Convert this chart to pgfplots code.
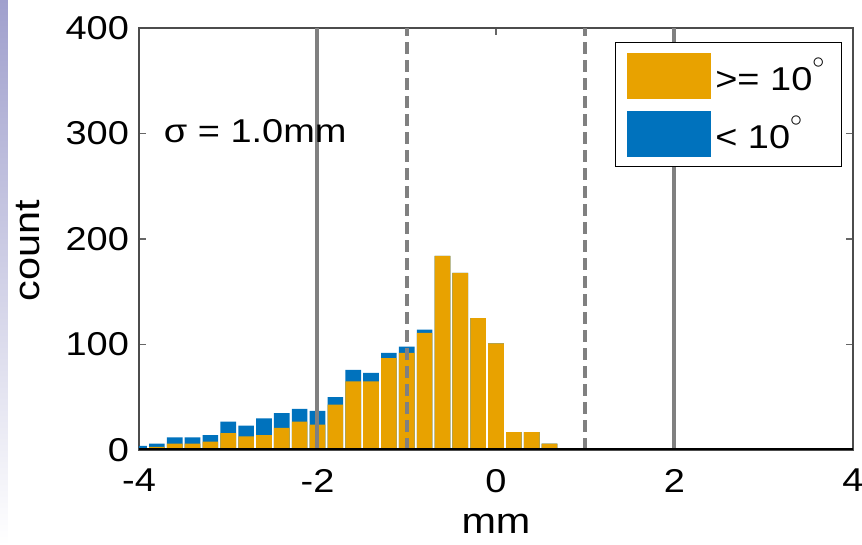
\documentclass[border=0pt]{standalone}
\usepackage{fontspec}
\setmainfont{Liberation Sans}[FakeStretch=1.15]
\usepackage{pgfplots}
\pgfplotsset{compat=1.18}
\usepackage{pgfplotstable}

\definecolor{historange}{RGB}{232,162,0}
\definecolor{histblue}{RGB}{0,114,189}
\definecolor{refgray}{RGB}{128,128,128}

% bin centre, count >= 10 deg, count < 10 deg
\pgfplotstableread{
x    ge  lt
-4.0   0   4
-3.8   3   3
-3.6   6   6
-3.4   6   6
-3.2   8   6
-3.0  16  11
-2.8  13  10
-2.6  14  16
-2.4  21  14
-2.2  27  12
-2.0  24  13
-1.8  43   7
-1.6  65  11
-1.4  65   8
-1.2  87   5
-1.0  92   6
-0.8 111   3
-0.6 184   0
-0.4 168   0
-0.2 125   0
 0.0 101   0
 0.2  17   0
 0.4  17   0
 0.6   6   0
}\hist

\begin{document}
\begin{tikzpicture}
\shade[top color={rgb,255:red,160;green,160;blue,205}, bottom color=white]
  (-69.5pt,-47.5pt) rectangle (-65.5pt,225pt);
\begin{axis}[
  at={(0,0)}, anchor=south west,
  scale only axis, width=357pt, height=211pt,
  xmin=-4, xmax=4, ymin=0, ymax=400,
  xtick={-4,-2,0,2,4}, ytick={0,100,...,400},
  tick align=inside, major tick length=3.5pt,
  axis line style={draw=black!70, line width=0.6pt},
  tick style={black!60, line width=0.6pt},
  font=\fontsize{16.5}{19}\selectfont,
  /pgf/number format/assume math mode=true,
  xticklabel style={yshift=-6pt},
  yticklabel style={xshift=-1.5pt},
  xlabel={mm}, ylabel={count},
  label style={font=\fontsize{18}{21}\selectfont},
  xlabel style={yshift=-4pt},
  ylabel shift=6pt,
  ylabel style={xshift=-6pt},
  reverse legend,
  legend cell align=left,
  legend image code/.code={\fill[#1] (0pt,-11.5pt) rectangle (42pt,11.5pt);},
  legend style={at={(0.9846,0.9668)}, anchor=north east, draw=black,
    line width=0.6pt, font=\fontsize{16.5}{19}\selectfont,
    inner xsep=6pt, inner ysep=5pt, row sep=6pt},
]
\addplot[ybar, bar width=0.175, fill=histblue, draw=none]
  table[x=x, y expr=\thisrow{ge}+\thisrow{lt}] {\hist};
\addlegendentry{< 10\raisebox{0.55ex}{$^{\circ}$}}
\addplot[ybar, bar width=0.175, fill=historange, draw=none]
  table[x=x, y=ge] {\hist};
\addlegendentry{>= 10\raisebox{0.55ex}{$^{\circ}$}}

\addplot[refgray, line width=2pt, forget plot] coordinates {(-2,0) (-2,400)};
\addplot[refgray, line width=2pt, forget plot] coordinates {(2,0) (2,400)};
\addplot[refgray, line width=2pt, dash pattern=on 6pt off 3pt, forget plot] coordinates {(-1,0) (-1,400)};
\addplot[refgray, line width=2pt, dash pattern=on 6pt off 3pt, forget plot] coordinates {(1,0) (1,400)};
\addplot[black, line width=1.5pt, forget plot] coordinates {(-4,0) (4,0)};

\node[anchor=west, font=\fontsize{16.5}{19}\selectfont] at (axis cs:-3.8,302) {σ = 1.0mm};
\end{axis}
\pgfresetboundingbox
\path (-69.5pt,-47.5pt) rectangle (361.5pt,225pt);
\end{tikzpicture}
\end{document}
